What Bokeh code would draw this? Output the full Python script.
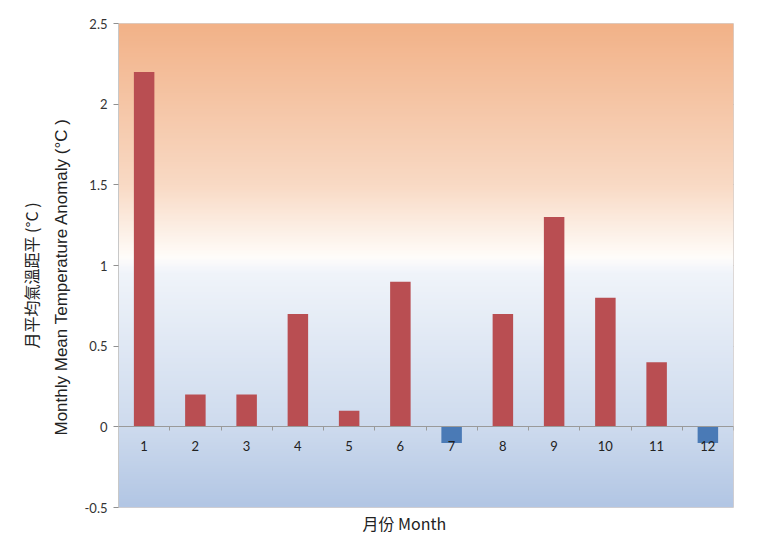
import numpy as np
from bokeh.plotting import figure
from bokeh.models import (FixedTicker, LinearAxis, Range1d, CustomJSTickFormatter,
                          ColumnDataSource, Title)
from bokeh.embed import file_html
from bokeh.resources import INLINE

# ---- data ----
months = [1, 2, 3, 4, 5, 6, 7, 8, 9, 10, 11, 12]
anomaly = [2.2, 0.2, 0.2, 0.7, 0.1, 0.9, -0.1, 0.7, 1.3, 0.8, 0.4, -0.1]
y_ticks = [-0.5, 0, 0.5, 1, 1.5, 2, 2.5]
y_min, y_max = -0.5, 2.5
x_min, x_max = 0.5, 12.5
ylabel_zh = "月平均氣溫距平 (°C )"
ylabel_en = "Monthly Mean Temperature Anomaly (°C )"
xlabel = "月份 Month"

RED = "#b94e52"
BLUE = "#4a7ab6"
colors = [RED if v >= 0 else BLUE for v in anomaly]

p = figure(width=752, height=535, output_backend="svg", toolbar_location=None,
           x_range=Range1d(x_min, x_max), y_range=Range1d(y_min, y_max),
           min_border_left=118, min_border_right=19, min_border_top=23,
           min_border_bottom=25, x_axis_location=None, y_axis_location=None,
           background_fill_color="white", border_fill_color="white",
           outline_line_color="#d8d0cc")

# ---- background gradient (orange top -> white -> blue bottom) ----
stops = [(-0.5, (178, 198, 228)), (0.0, (206, 219, 238)), (0.95, (240, 244, 250)),
         (1.05, (255, 253, 250)), (1.5, (249, 218, 197)), (2.5, (242, 178, 136))]
n = 400
ys = np.linspace(y_min, y_max, n)
sy = [s[0] for s in stops]
img = np.zeros((n, 1), dtype=np.uint32)
view = img.view(dtype=np.uint8).reshape((n, 1, 4))
for c in range(3):
    view[:, 0, c] = np.interp(ys, sy, [s[1][c] for s in stops]).astype(np.uint8)
view[:, 0, 3] = 255
p.image_rgba(image=[img], x=x_min, y=y_min, dw=x_max - x_min, dh=y_max - y_min)

# ---- grid ----
p.ygrid.ticker = FixedTicker(ticks=y_ticks)
p.ygrid.grid_line_color = "#9a9a9a"
p.xgrid.grid_line_color = None

# ---- bars ----
src = ColumnDataSource(dict(x=months, top=anomaly, color=colors))
p.vbar(x="x", top="top", bottom=0, width=0.4, fill_color="color",
       line_color=None, source=src)

# ---- y axis ----
yax = LinearAxis(ticker=FixedTicker(ticks=y_ticks),
                 formatter=CustomJSTickFormatter(code="return tick.toString();"))
yax.axis_line_color = "#c8c8c8"
yax.major_tick_line_color = "#909090"
yax.major_tick_out = 5
yax.major_tick_in = 0
yax.minor_tick_line_color = None
yax.major_label_text_font = "Lato"
yax.major_label_text_font_size = "13px"
yax.major_label_text_color = "#333333"
yax.major_label_standoff = 6
p.add_layout(yax, "left")

t_en = Title(text=ylabel_en, align="left", offset=72, standoff=22,
             text_font="Liberation Sans", text_font_size="17px",
             text_font_style="normal", text_color="#222222")
p.add_layout(t_en, "left")
t_zh = Title(text=ylabel_zh, align="left", offset=159, standoff=-8,
             text_font="Noto Sans CJK TC", text_font_size="16px",
             text_font_style="normal", text_color="#222222")
p.add_layout(t_zh, "left")

# ---- x axis at zero line ----
xax = LinearAxis(ticker=FixedTicker(ticks=months,
                                    minor_ticks=[m - 0.5 for m in months] + [months[-1] + 0.5]),
                 fixed_location=0)
xax.axis_line_color = "#9a9a9a"
xax.major_tick_line_color = None
xax.major_tick_out = 0
xax.major_tick_in = 0
xax.minor_tick_line_color = "#9a9a9a"
xax.minor_tick_out = 4
xax.minor_tick_in = 0
xax.major_label_text_font = "Lato"
xax.major_label_text_font_size = "13px"
xax.major_label_text_color = "#222222"
xax.major_label_standoff = 10
p.add_layout(xax, "below")

# ---- x axis title ----
t_x = Title(text=xlabel, align="left", offset=244, standoff=2,
            text_font="Noto Sans CJK TC", text_font_size="16px",
            text_font_style="normal", text_color="#222222")
p.add_layout(t_x, "below")

open("out.html", "w").write(file_html(p, INLINE))
